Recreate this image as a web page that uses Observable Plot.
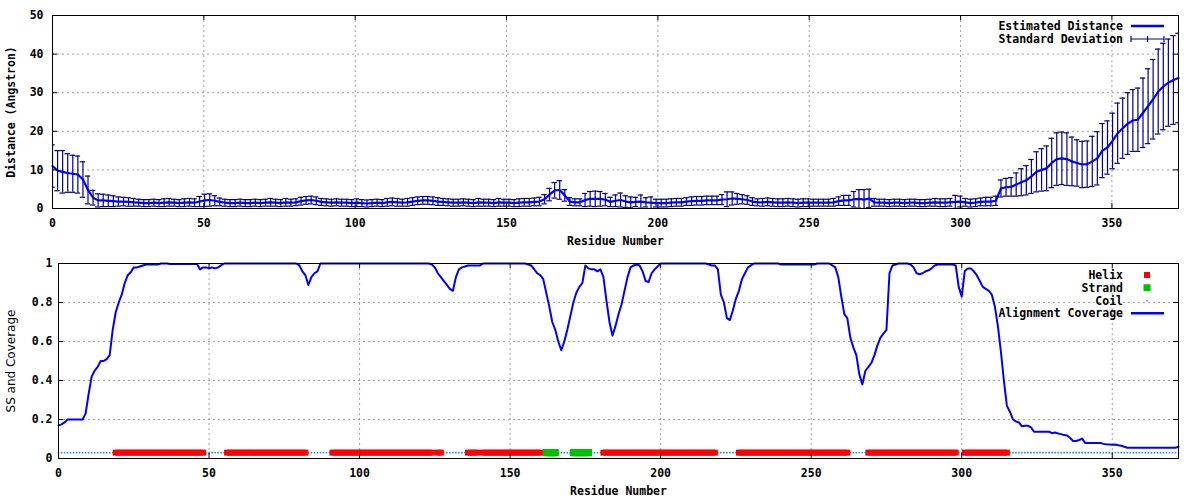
<!DOCTYPE html>
<html><head><meta charset="utf-8">
<script src="https://cdn.jsdelivr.net/npm/d3@7"></script>
<script src="https://cdn.jsdelivr.net/npm/@observablehq/plot@0.6"></script>
<style>
body{margin:0;background:#fff;}
#chart{width:1200px;height:500px;}
#chart svg{display:block;}
</style></head><body><div id="chart"></div>
<script>
// ---------- DATA ----------
const xTicks = [0, 50, 100, 150, 200, 250, 300, 350];
const distTicks = [0, 10, 20, 30, 40, 50];
const covTicks = [0, 0.2, 0.4, 0.6, 0.8, 1];
const lastResidue = 372;

// Estimated distance (Angstrom), sampled evenly over residues 0..372
const distMean = [
  11.0, 9.8, 9.5, 9.2, 9.0, 8.8, 7.5, 4.8, 2.8, 2.1,
  2.1, 2.0, 1.9, 1.8, 1.8, 1.7, 1.6, 1.5, 1.4, 1.4,
  1.5, 1.4, 1.5, 1.6, 1.5, 1.4, 1.5, 1.6, 1.5, 1.8,
  2.1, 2.2, 2.0, 1.7, 1.5, 1.4, 1.4, 1.5, 1.4, 1.4,
  1.5, 1.4, 1.5, 1.6, 1.5, 1.4, 1.6, 1.5, 1.6, 1.9,
  2.1, 2.2, 2.0, 1.7, 1.6, 1.5, 1.6, 1.5, 1.5, 1.4,
  1.5, 1.4, 1.3, 1.4, 1.5, 1.4, 1.6, 1.7, 1.6, 1.5,
  1.6, 1.8, 2.0, 2.1, 2.1, 2.0, 1.8, 1.7, 1.6, 1.5,
  1.5, 1.6, 1.5, 1.4, 1.6, 1.5, 1.5, 1.4, 1.6, 1.5,
  1.5, 1.4, 1.5, 1.6, 1.6, 1.7, 1.8, 2.4, 3.6, 4.7,
  4.8, 3.4, 1.8, 1.6, 1.6, 2.2, 2.5, 2.5, 2.5, 2.3,
  1.7, 2.0, 2.2, 1.8, 1.6, 1.7, 1.8, 1.6, 1.5, 1.4,
  1.4, 1.4, 1.5, 1.6, 1.6, 1.8, 1.9, 2.0, 2.0, 2.1,
  2.1, 2.1, 2.3, 2.4, 2.6, 2.5, 2.4, 2.2, 1.8, 1.6,
  1.6, 1.7, 1.6, 1.5, 1.5, 1.6, 1.5, 1.4, 1.5, 1.5,
  1.5, 1.5, 1.5, 1.5, 1.6, 1.9, 2.1, 2.1, 2.4, 2.5,
  2.3, 2.6, 1.6, 1.5, 1.5, 1.4, 1.5, 1.5, 1.4, 1.5,
  1.5, 1.4, 1.4, 1.5, 1.6, 1.5, 1.5, 1.6, 1.7, 1.8,
  1.6, 1.4, 1.5, 1.7, 1.8, 1.8, 2.0, 5.2, 5.5, 5.6,
  6.2, 6.8, 7.3, 8.3, 9.5, 10.0, 10.4, 11.8, 12.8, 13.0,
  12.8, 12.2, 11.8, 11.4, 11.5, 12.2, 13.0, 15.0, 15.8, 17.5,
  19.5, 20.8, 22.0, 22.8, 23.0, 24.8, 26.5, 28.3, 30.3, 31.6,
  32.6, 33.3, 33.8
];
const distSD = [
  5.5, 5.2, 5.5, 5.0, 4.8, 4.8, 4.6, 3.6, 1.9, 1.7,
  1.6, 1.5, 1.4, 1.2, 1.1, 1.1, 1.0, 0.9, 0.9, 0.9,
  0.9, 0.9, 1.0, 1.0, 0.9, 0.9, 1.0, 1.0, 1.0, 1.3,
  1.6, 1.6, 1.3, 1.0, 0.9, 0.9, 0.9, 0.9, 0.9, 0.9,
  0.9, 0.9, 0.9, 1.0, 0.9, 0.9, 1.0, 0.9, 0.9, 1.0,
  1.0, 1.0, 1.0, 0.9, 0.9, 0.9, 0.9, 0.9, 0.9, 0.9,
  1.0, 0.9, 0.9, 0.9, 0.9, 0.9, 1.0, 1.0, 1.0, 0.9,
  1.0, 1.0, 1.0, 1.0, 1.0, 1.0, 1.0, 0.9, 0.9, 0.9,
  0.9, 0.9, 0.9, 0.9, 1.0, 0.9, 0.9, 0.9, 1.0, 0.9,
  0.9, 0.9, 1.0, 1.0, 1.0, 1.0, 1.1, 1.2, 1.6, 2.0,
  2.4, 1.5, 1.0, 0.9, 0.9, 1.7, 1.9, 2.0, 1.9, 1.6,
  1.2, 1.5, 1.8, 1.5, 1.4, 1.2, 1.7, 1.2, 1.5, 1.0,
  1.0, 1.0, 1.0, 1.0, 1.0, 1.0, 1.1, 1.1, 1.1, 1.1,
  1.1, 1.1, 1.3, 1.9, 1.7, 1.4, 1.2, 1.1, 1.0, 0.9,
  1.0, 1.0, 1.0, 1.0, 1.0, 1.0, 1.0, 1.0, 1.0, 1.0,
  0.9, 0.9, 0.9, 0.9, 1.0, 1.1, 1.3, 1.3, 2.0, 2.4,
  2.6, 2.4, 1.0, 0.9, 0.9, 0.9, 0.9, 0.9, 0.9, 0.9,
  0.9, 0.9, 0.9, 0.9, 1.0, 1.0, 1.0, 1.0, 1.7, 1.4,
  1.0, 1.0, 1.0, 1.0, 1.1, 1.1, 1.2, 2.2, 2.3, 2.4,
  3.0, 3.5, 3.8, 4.4, 5.2, 5.5, 5.8, 6.4, 6.8, 6.8,
  6.8, 6.3, 6.0, 6.0, 6.0, 6.5, 6.9, 7.0, 6.9, 7.2,
  7.8, 7.8, 8.0, 8.0, 8.2, 9.0, 9.7, 10.3, 11.0, 11.2,
  11.3, 11.5, 11.6
];

// Alignment coverage per residue 0..372
const coverage = [
  0.17,0.175,0.185,0.2,0.2,0.2,0.2,0.2,0.2,0.23,
  0.33,0.42,0.45,0.47,0.5,0.5,0.51,0.53,0.66,0.75,
  0.8,0.84,0.9,0.94,0.955,0.98,0.98,0.985,0.99,0.995,
  0.995,0.995,0.995,0.995,1,1,1,0.997,0.997,0.997,
  0.997,0.997,0.997,0.997,0.997,0.997,0.997,0.97,0.98,0.98,
  0.975,0.98,0.975,0.98,0.99,1,1,1,1,1,
  1,1,1,1,1,1,1,1,1,1,
  1,1,1,1,1,1,1,1,1,1,
  0.99,0.96,0.94,0.89,0.93,0.95,0.96,1,1,1,
  1,1,1,1,1,1,1,1,1,1,
  1,1,1,1,1,1,1,1,1,1,
  1,1,1,1,1,1,1,1,1,1,
  1,1,1,1,0.995,0.98,0.95,0.93,0.91,0.89,
  0.87,0.86,0.93,0.97,0.98,0.985,0.99,0.99,0.99,0.99,
  0.99,1,1,1,1,1,1,1,1,1,
  1,1,1,1,1,1,0.995,0.99,0.97,0.95,
  0.94,0.92,0.85,0.78,0.7,0.66,0.6,0.555,0.6,0.66,
  0.73,0.8,0.85,0.88,0.9,0.99,0.975,0.97,0.97,0.96,
  0.97,0.93,0.81,0.7,0.63,0.68,0.74,0.79,0.86,0.93,
  0.98,0.99,0.995,0.99,0.96,0.91,0.905,0.95,0.97,0.985,
  1,1,1,1,1,1,1,1,1,1,
  1,1,1,1,1,1,0.995,0.99,0.99,0.97,
  0.84,0.8,0.72,0.71,0.76,0.82,0.86,0.92,0.95,0.98,
  0.99,1,1,1,1,1,1,1,1,1,
  0.995,0.995,0.995,0.995,0.995,0.995,0.995,0.995,0.995,0.995,
  0.995,0.995,1,1,1,1,1,0.99,0.98,0.93,
  0.83,0.74,0.72,0.62,0.57,0.53,0.43,0.38,0.45,0.47,
  0.49,0.53,0.58,0.62,0.64,0.66,0.95,0.99,0.995,1,
  1,1,1,0.995,0.98,0.95,0.945,0.95,0.96,0.965,
  0.975,0.99,0.995,0.995,0.995,0.995,0.995,0.995,0.99,0.88,
  0.83,0.96,0.975,0.975,0.96,0.94,0.91,0.88,0.87,0.86,
  0.84,0.78,0.68,0.55,0.4,0.27,0.24,0.2,0.19,0.185,
  0.165,0.168,0.168,0.16,0.137,0.137,0.137,0.137,0.137,0.137,
  0.13,0.133,0.128,0.125,0.12,0.118,0.105,0.09,0.09,0.095,
  0.102,0.08,0.08,0.08,0.08,0.08,0.08,0.075,0.073,0.072,
  0.07,0.072,0.068,0.065,0.06,0.055,0.055,0.055,0.055,0.055,
  0.055,0.055,0.055,0.055,0.055,0.055,0.055,0.055,0.055,0.055,
  0.055,0.055,0.06
];

// Secondary structure (residue ranges, inclusive)
const helixRanges = [[19,48],[56,82],[91,124],[126,127],[136,139],[141,160],[181,218],[226,262],[269,298],[301,315]];
const strandRanges = [[162,165],[171,176]];
const ssLevel = 0.03;

// ---------- STYLE ----------
const MONO = "'DejaVu Sans Mono', 'Liberation Mono', monospace";
const GRID = {stroke: "#a0a0a0", strokeOpacity: 1, strokeDasharray: "2,3", strokeWidth: 1};
const EB = "#00008b";
const LINE = "#0000ff";
const HELIX = "#ff0000";
const STRAND = "#00c000";
const COIL = "#1c8cf0";
const TXT = {fontFamily: MONO, fontWeight: "bold", fontSize: 11.5, fill: "black"};

// ---------- DERIVED TABLES ----------
const dist = distMean.map((m, i) => ({
  x: i * lastResidue / (distMean.length - 1), m, lo: m - distSD[i], hi: m + distSD[i]
}));
const cov = coverage.map((v, i) => ({x: i, v}));
const inRanges = (r, i) => r.some(([a, b]) => i >= a && i <= b);
const ss = coverage.map((_, i) => ({x: i, t: inRanges(helixRanges, i) ? "H" : inRanges(strandRanges, i) ? "E" : "C"}));

function inwardTicks(innerW, innerH, yTicks, len = 5) {
  const st = {stroke: "black", strokeWidth: 1};
  return [
    Plot.tickX(xTicks, {x: d => d, insetBottom: innerH - len, ...st}),
    Plot.tickX(xTicks, {x: d => d, insetTop: innerH - len, ...st}),
    Plot.tickY(yTicks, {y: d => d, insetRight: innerW - len, ...st}),
    Plot.tickY(yTicks, {y: d => d, insetLeft: innerW - len, ...st})
  ];
}

function legendMark(items) {
  return (index, scales, values, dims) => {
    const g = d3.create("svg:g");
    const xr = dims.width - dims.marginRight;
    const yt = dims.marginTop;
    for (const it of items) {
      const y = yt + it.dy;
      g.append("text").attr("x", xr - 55).attr("y", y).attr("dy", "0.35em")
        .attr("text-anchor", "end").attr("font-family", MONO).attr("font-weight", "bold")
        .attr("font-size", "11.5px").attr("fill", "black").text(it.label);
      const x1 = xr - 47, x2 = xr - 14, xm = xr - 31;
      if (it.kind === "line") {
        g.append("line").attr("x1", x1).attr("x2", x2).attr("y1", y).attr("y2", y)
          .attr("stroke", it.color).attr("stroke-width", 2.5);
      } else if (it.kind === "err") {
        g.append("line").attr("x1", x1).attr("x2", x2).attr("y1", y).attr("y2", y).attr("stroke", it.color).attr("stroke-width", 1.2);
        for (const xx of [x1, (x1 + x2) / 2, x2])
          g.append("line").attr("x1", xx).attr("x2", xx).attr("y1", y - 3).attr("y2", y + 3).attr("stroke", it.color).attr("stroke-width", 1.2);
      } else if (it.kind === "square") {
        g.append("rect").attr("x", xm - it.size / 2).attr("y", y - it.size / 2)
          .attr("width", it.size).attr("height", it.size).attr("fill", it.color);
      } else if (it.kind === "dot") {
        g.append("rect").attr("x", xm - 0.7).attr("y", y - 0.7).attr("width", 1.5).attr("height", 1.5).attr("fill", it.color);
      }
    }
    return g.node();
  };
}

// ---------- TOP PANEL ----------
const topW = 1200 - 52 - 22, topH = 250 - 15 - 42;
const topPlot = Plot.plot({
  width: 1200, height: 250,
  marginLeft: 52, marginRight: 22, marginTop: 15, marginBottom: 42,
  style: {fontFamily: MONO, fontSize: "11.5px", fontWeight: "bold", color: "black", background: "white"},
  x: {domain: [0, lastResidue]},
  y: {domain: [0, 50]},
  marks: [
    Plot.gridX({ticks: xTicks.slice(1), ...GRID}),
    Plot.gridY({ticks: distTicks.slice(1, -1), ...GRID}),
    Plot.axisX({ticks: xTicks, tickSize: 0, tickPadding: 10, label: null, tickFormat: d => String(d), ...TXT}),
    Plot.axisY({ticks: distTicks, tickSize: 0, tickPadding: 9, label: null, tickFormat: d => String(d), ...TXT}),
    Plot.ruleX(dist, {x: "x", y1: "lo", y2: "hi", stroke: EB, strokeWidth: 1.2, clip: true}),
    Plot.ruleY(dist, {y: "hi", x1: d => d.x - 0.9, x2: d => d.x + 0.9, stroke: EB, strokeWidth: 1.2, clip: true}),
    Plot.ruleY(dist, {y: "lo", x1: d => d.x - 0.9, x2: d => d.x + 0.9, stroke: EB, strokeWidth: 1.2, clip: true}),
    Plot.line(dist, {x: "x", y: "m", stroke: LINE, strokeWidth: 2.2}),
    ...inwardTicks(topW, topH, distTicks),
    Plot.frame({stroke: "black"}),
    Plot.text(["Residue Number"], {text: d => d, frameAnchor: "bottom", lineAnchor: "middle", textAnchor: "middle", dy: 32.5, ...TXT}),
    Plot.text(["Distance (Angstron)"], {text: d => d, frameAnchor: "left", textAnchor: "middle", lineAnchor: "middle", dx: -41, rotate: -90, ...TXT}),
    legendMark([
      {label: "Estimated Distance", dy: 11, kind: "line", color: LINE},
      {label: "Standard Deviation", dy: 24, kind: "err", color: EB}
    ])
  ]
});

// ---------- BOTTOM PANEL ----------
const botW = 1200 - 58 - 22, botH = 250 - 13 - 42;
const bottomPlot = Plot.plot({
  width: 1200, height: 250,
  marginLeft: 58, marginRight: 22, marginTop: 13, marginBottom: 42,
  style: {fontFamily: MONO, fontSize: "11.5px", fontWeight: "bold", color: "black", background: "white"},
  x: {domain: [0, lastResidue]},
  y: {domain: [0, 1]},
  marks: [
    Plot.gridX({ticks: xTicks.slice(1), ...GRID}),
    Plot.gridY({ticks: covTicks.slice(1, -1), ...GRID}),
    Plot.axisX({ticks: xTicks, tickSize: 0, tickPadding: 10, label: null, tickFormat: d => String(d), ...TXT}),
    Plot.axisY({ticks: covTicks, tickSize: 0, tickPadding: 6, label: null, tickFormat: d => String(d), ...TXT}),
    Plot.dot(ss.filter(d => d.t === "C"), {x: "x", y: () => ssLevel, symbol: "square", r: 0.9, fill: COIL, stroke: "none"}),
    Plot.dot(ss.filter(d => d.t === "H"), {x: "x", y: () => ssLevel, symbol: "square", r: 3.4, fill: HELIX, stroke: "none"}),
    Plot.dot(ss.filter(d => d.t === "E"), {x: "x", y: () => ssLevel, symbol: "square", r: 4.1, fill: STRAND, stroke: "none"}),
    Plot.line(cov, {x: "x", y: "v", stroke: LINE, strokeWidth: 2}),
    ...inwardTicks(botW, botH, covTicks),
    Plot.frame({stroke: "black"}),
    Plot.text(["Residue Number"], {text: d => d, frameAnchor: "bottom", lineAnchor: "middle", textAnchor: "middle", dy: 32.5, ...TXT}),
    Plot.text(["SS and Coverage"], {text: d => d, frameAnchor: "left", textAnchor: "middle", lineAnchor: "middle", dx: -47, rotate: -90,
      fontFamily: "'DejaVu Sans', sans-serif", fontWeight: "normal", fontSize: 12, fill: "black"}),
    legendMark([
      {label: "Helix", dy: 12, kind: "square", color: HELIX, size: 6},
      {label: "Strand", dy: 24.7, kind: "square", color: STRAND, size: 7},
      {label: "Coil", dy: 37.7, kind: "dot", color: COIL},
      {label: "Alignment Coverage", dy: 50.3, kind: "line", color: LINE}
    ])
  ]
});

const root = document.getElementById("chart");
root.appendChild(topPlot);
root.appendChild(bottomPlot);
</script>
</body></html>
